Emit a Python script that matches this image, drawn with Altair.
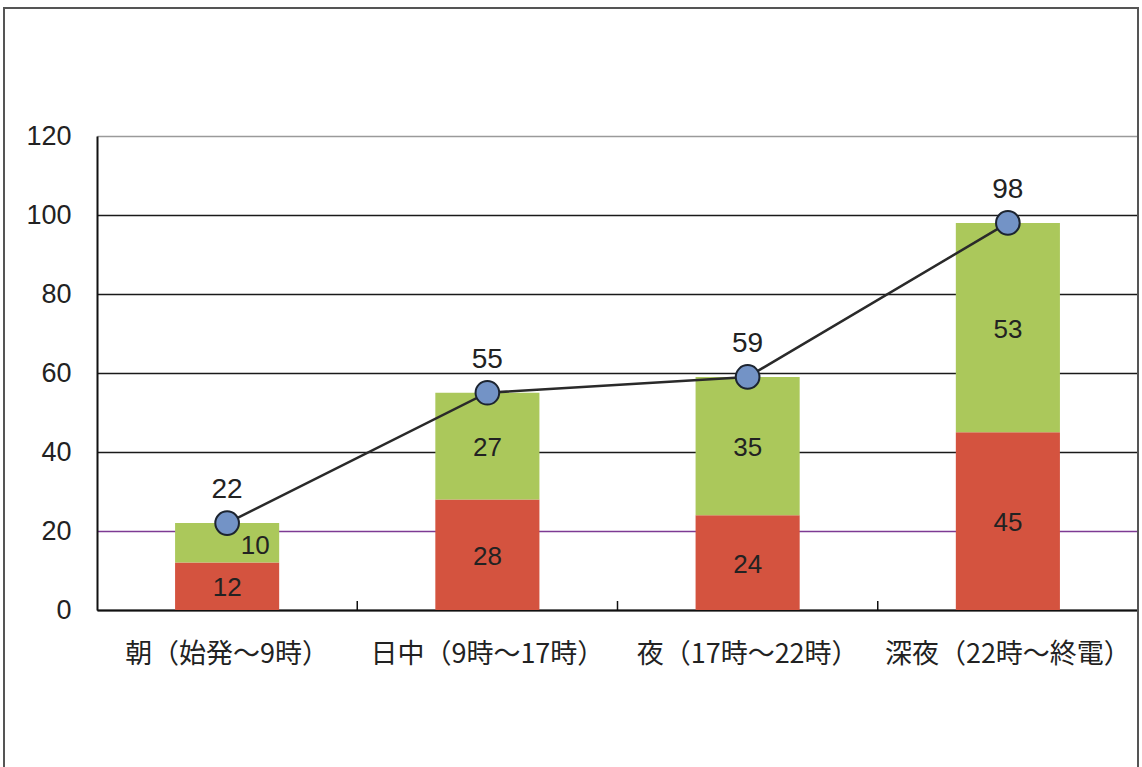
import altair as alt
import pandas as pd

# Time-of-day categories and the two stacked components of each total
categories = ["朝（始発～9時）", "日中（9時～17時）", "夜（17時～22時）", "深夜（22時～終電）"]
lower_values = [12, 28, 24, 45]
upper_values = [10, 27, 35, 53]
totals = [22, 55, 59, 98]
y_ticks = [0, 20, 40, 60, 80, 100, 120]
dividers = [1, 2, 3]

RED = "#d4533f"
GREEN = "#abc85b"
POINT = "#7393c6"
INK = "#222222"
NUM_FONT = "Liberation Sans"
JP_FONT = "Noto Sans CJK JP"

W, H = 1041, 474

segments = pd.DataFrame({
    "category": categories * 2,
    "series": ["lower"] * len(categories) + ["upper"] * len(categories),
    "rank": [0] * len(categories) + [1] * len(categories),
    "value": lower_values + upper_values,
})
total_df = pd.DataFrame({"category": categories, "total": totals})
divider_df = pd.DataFrame({"pos": dividers})

x_scale = alt.Scale(domain=categories, paddingInner=0.6, paddingOuter=0.3)
y_scale = alt.Scale(domain=[0, 120], nice=False)

x_enc = alt.X(
    "category:N",
    scale=x_scale,
    sort=categories,
    title=None,
    axis=alt.Axis(
        labelAngle=0,
        labelFont=JP_FONT,
        labelFontSize=27,
        labelColor=INK,
        labelPadding=31,
        labelLimit=0,
        ticks=False,
        domainColor="#111111",
        domainWidth=2,
        grid=False,
    ),
)

bars = alt.Chart(segments).mark_bar().encode(
    x=x_enc,
    y=alt.Y(
        "value:Q",
        stack="zero",
        scale=y_scale,
        title=None,
        axis=alt.Axis(
            values=y_ticks,
            labelFont=NUM_FONT,
            labelFontSize=27,
            labelColor=INK,
            labelPadding=26,
            ticks=False,
            domainColor="#111111",
            domainWidth=2,
            grid=True,
            gridColor={
                "condition": [
                    {"test": "datum.value === 20", "value": "#7d3a93"},
                    {"test": "datum.value === 120", "value": "#9a9a9a"},
                ],
                "value": "#1a1a1a",
            },
            gridWidth=1.5,
        ),
    ),
    color=alt.Color(
        "series:N",
        scale=alt.Scale(domain=["lower", "upper"], range=[RED, GREEN]),
        legend=None,
    ),
    order=alt.Order("rank:Q"),
)

# Segment value labels, centred inside each stacked piece
stacked = alt.Chart(segments).transform_stack(
    stack="value",
    as_=["v0", "v1"],
    groupby=["category"],
    sort=[alt.SortField("rank", order="ascending")],
).transform_calculate(mid="(datum.v0 + datum.v1) / 2")

first_upper = f"datum.series === 'upper' && datum.category === '{categories[0]}'"

seg_labels = stacked.transform_filter(f"!({first_upper})").mark_text(
    font=NUM_FONT, fontSize=26, color=INK, dy=2
).encode(
    x=alt.X("category:N", scale=x_scale, sort=categories),
    y=alt.Y("mid:Q", scale=y_scale),
    text="value:Q",
)

seg_label_shifted = stacked.transform_filter(first_upper).mark_text(
    font=NUM_FONT, fontSize=26, color=INK, dx=28, dy=3
).encode(
    x=alt.X("category:N", scale=x_scale, sort=categories),
    y=alt.Y("mid:Q", scale=y_scale),
    text="value:Q",
)

line = alt.Chart(total_df).mark_line(color="#2a2a2a", strokeWidth=2.5).encode(
    x=alt.X("category:N", scale=x_scale, sort=categories),
    y=alt.Y("total:Q", scale=y_scale),
)

points = alt.Chart(total_df).mark_point(
    shape="circle", filled=True, size=560, fill=POINT, stroke="#1c2430",
    strokeWidth=2, opacity=1,
).encode(
    x=alt.X("category:N", scale=x_scale, sort=categories),
    y=alt.Y("total:Q", scale=y_scale),
)

total_labels = alt.Chart(total_df).mark_text(
    font=NUM_FONT, fontSize=28, color=INK, dy=-33
).encode(
    x=alt.X("category:N", scale=x_scale, sort=categories),
    y=alt.Y("total:Q", scale=y_scale),
    text="total:Q",
)

# Short inward ticks on the category axis, at the boundaries between groups
div_ticks = alt.Chart(divider_df).mark_rule(color="#111111", strokeWidth=1.5).encode(
    x=alt.X("pos:Q", scale=alt.Scale(domain=[0, len(categories)], nice=False), axis=None),
    y=alt.value(H - 9),
    y2=alt.value(H),
)

# Outer frame around the whole figure
frame = alt.Chart(pd.DataFrame({"k": [0]})).mark_rect(
    filled=False, stroke="#555555", strokeWidth=2
).encode(
    x=alt.value(-93),
    x2=alt.value(W),
    y=alt.value(-128),
    y2=alt.value(H + 200),
)

main = alt.layer(bars, seg_labels, seg_label_shifted, line, points, total_labels)

chart = alt.layer(main, div_ticks, frame).resolve_scale(x="independent").properties(
    width=W,
    height=H,
    padding={"left": 97, "top": 136, "right": 4, "bottom": 157},
    autosize=alt.AutoSizeParams(type="none"),
).configure_view(stroke=None).configure(background="white")

chart.save("out.html", embed_options={"renderer": "svg", "actions": False})
